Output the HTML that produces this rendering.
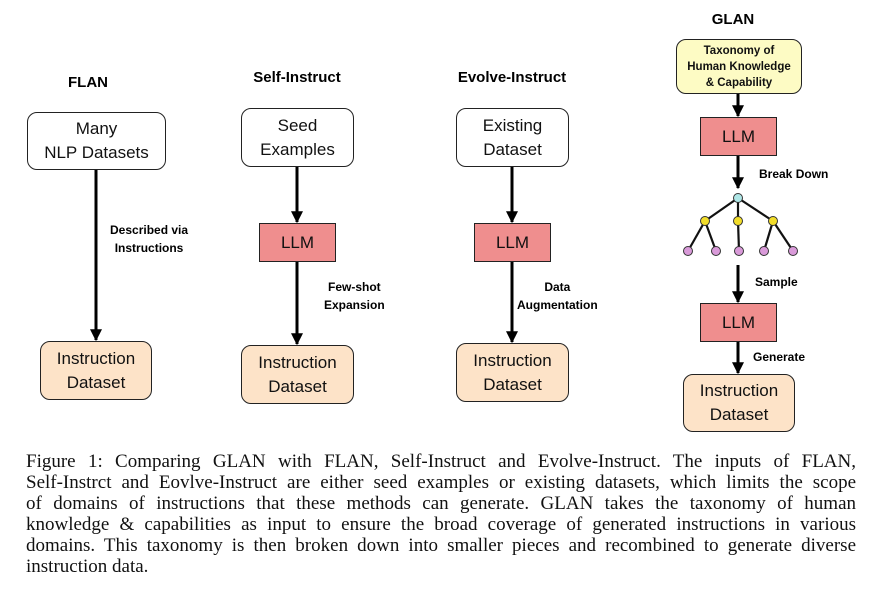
<!DOCTYPE html><html><head><style>
body{margin:0;width:881px;height:598px;background:#fff;position:relative;overflow:hidden;font-family:"Liberation Sans",sans-serif}
.b{position:absolute;box-sizing:border-box;border:1.5px solid #222;display:flex;align-items:center;justify-content:center;text-align:center;font-size:17px;line-height:24px;color:#111}
.w{background:#fff;border-radius:10px}
.o{background:#fde3c8;border-radius:10px}
.r{background:#ef8e8e;border-radius:0}
.t{position:absolute;font-weight:bold;font-size:15px;transform:translateX(-50%);white-space:nowrap}
.l{position:absolute;font-weight:bold;font-size:12px;line-height:18px;text-align:center;white-space:nowrap}
.cap{position:absolute;left:26px;top:451px;width:830px;font-family:"Liberation Serif",serif;font-size:19px;line-height:21px;color:#111}
.cap div{text-align:justify;text-align-last:justify;white-space:nowrap}
.cap div.last{text-align-last:left}
</style></head><body>
<svg width="881" height="598" style="position:absolute;left:0;top:0">
<defs><marker id="m" viewBox="0 0 10 10" markerWidth="12" markerHeight="12" refX="9" refY="5" orient="auto" markerUnits="userSpaceOnUse"><path d="M0,0 L10,5 L0,10z" fill="#000"/></marker></defs>
<g stroke="#000" stroke-width="3" marker-end="url(#m)">
<line x1="96" y1="170" x2="96" y2="340"/>
<line x1="297" y1="167" x2="297" y2="222"/>
<line x1="297" y1="262" x2="297" y2="344"/>
<line x1="512" y1="167" x2="512" y2="222"/>
<line x1="512" y1="262" x2="512" y2="342"/>
<line x1="738" y1="94" x2="738" y2="116"/>
<line x1="738" y1="156" x2="738" y2="188"/>
<line x1="738" y1="265" x2="738" y2="302"/>
<line x1="738" y1="342" x2="738" y2="373"/>
</g>
<g stroke="#111" stroke-width="2.2">
<line x1="738" y1="198" x2="705" y2="221"/><line x1="738" y1="198" x2="738" y2="221"/><line x1="738" y1="198" x2="773" y2="221"/>
<line x1="705" y1="221" x2="688" y2="251"/><line x1="705" y1="221" x2="716" y2="251"/><line x1="738" y1="221" x2="739" y2="251"/>
<line x1="773" y1="221" x2="764" y2="251"/><line x1="773" y1="221" x2="793" y2="251"/>
</g>
<g stroke="#333" stroke-width="1">
<circle cx="738" cy="198" r="4.5" fill="#aee6e6"/>
<circle cx="705" cy="221" r="4.5" fill="#f2dd2a"/><circle cx="738" cy="221" r="4.5" fill="#f2dd2a"/><circle cx="773" cy="221" r="4.5" fill="#f2dd2a"/>
<circle cx="688" cy="251" r="4.5" fill="#d99ad9"/><circle cx="716" cy="251" r="4.5" fill="#d99ad9"/><circle cx="739" cy="251" r="4.5" fill="#d99ad9"/><circle cx="764" cy="251" r="4.5" fill="#d99ad9"/><circle cx="793" cy="251" r="4.5" fill="#d99ad9"/>
</g></svg>
<div class="t" style="left:88px;top:74px">FLAN</div>
<div class="t" style="left:297px;top:69px">Self-Instruct</div>
<div class="t" style="left:512px;top:69px">Evolve-Instruct</div>
<div class="t" style="left:733px;top:11px">GLAN</div>
<div class="b w" style="left:27px;top:112px;width:139px;height:58px">Many<br>NLP Datasets</div>
<div class="b o" style="left:40px;top:341px;width:112px;height:59px">Instruction<br>Dataset</div>
<div class="b w" style="left:241px;top:108px;width:113px;height:59px">Seed<br>Examples</div>
<div class="b r" style="left:259px;top:223px;width:77px;height:39px">LLM</div>
<div class="b o" style="left:241px;top:345px;width:113px;height:59px">Instruction<br>Dataset</div>
<div class="b w" style="left:456px;top:108px;width:113px;height:59px">Existing<br>Dataset</div>
<div class="b r" style="left:474px;top:223px;width:77px;height:39px">LLM</div>
<div class="b o" style="left:456px;top:343px;width:113px;height:59px">Instruction<br>Dataset</div>
<div class="b" style="left:676px;top:39px;width:126px;height:55px;background:#fdfbc4;border-radius:10px;font-size:11.5px;font-weight:bold;line-height:16px">Taxonomy of<br>Human Knowledge<br>&amp; Capability</div>
<div class="b r" style="left:700px;top:117px;width:77px;height:39px">LLM</div>
<div class="b r" style="left:700px;top:303px;width:77px;height:39px">LLM</div>
<div class="b o" style="left:683px;top:374px;width:112px;height:58px">Instruction<br>Dataset</div>
<div class="l" style="left:110px;top:221px">Described via<br>Instructions</div>
<div class="l" style="left:324px;top:278px">Few-shot<br>Expansion</div>
<div class="l" style="left:517px;top:278px">Data<br>Augmentation</div>
<div class="l" style="left:759px;top:165px">Break Down</div>
<div class="l" style="left:755px;top:273px">Sample</div>
<div class="l" style="left:753px;top:348px">Generate</div>
<div class="cap">
<div>Figure 1: Comparing GLAN with FLAN, Self-Instruct and Evolve-Instruct. The inputs of FLAN,</div>
<div>Self-Instrct and Eovlve-Instruct are either seed examples or existing datasets, which limits the scope</div>
<div>of domains of instructions that these methods can generate. GLAN takes the taxonomy of human</div>
<div>knowledge &amp; capabilities as input to ensure the broad coverage of generated instructions in various</div>
<div>domains. This taxonomy is then broken down into smaller pieces and recombined to generate diverse</div>
<div class="last">instruction data.</div>
</div>
</body></html>
